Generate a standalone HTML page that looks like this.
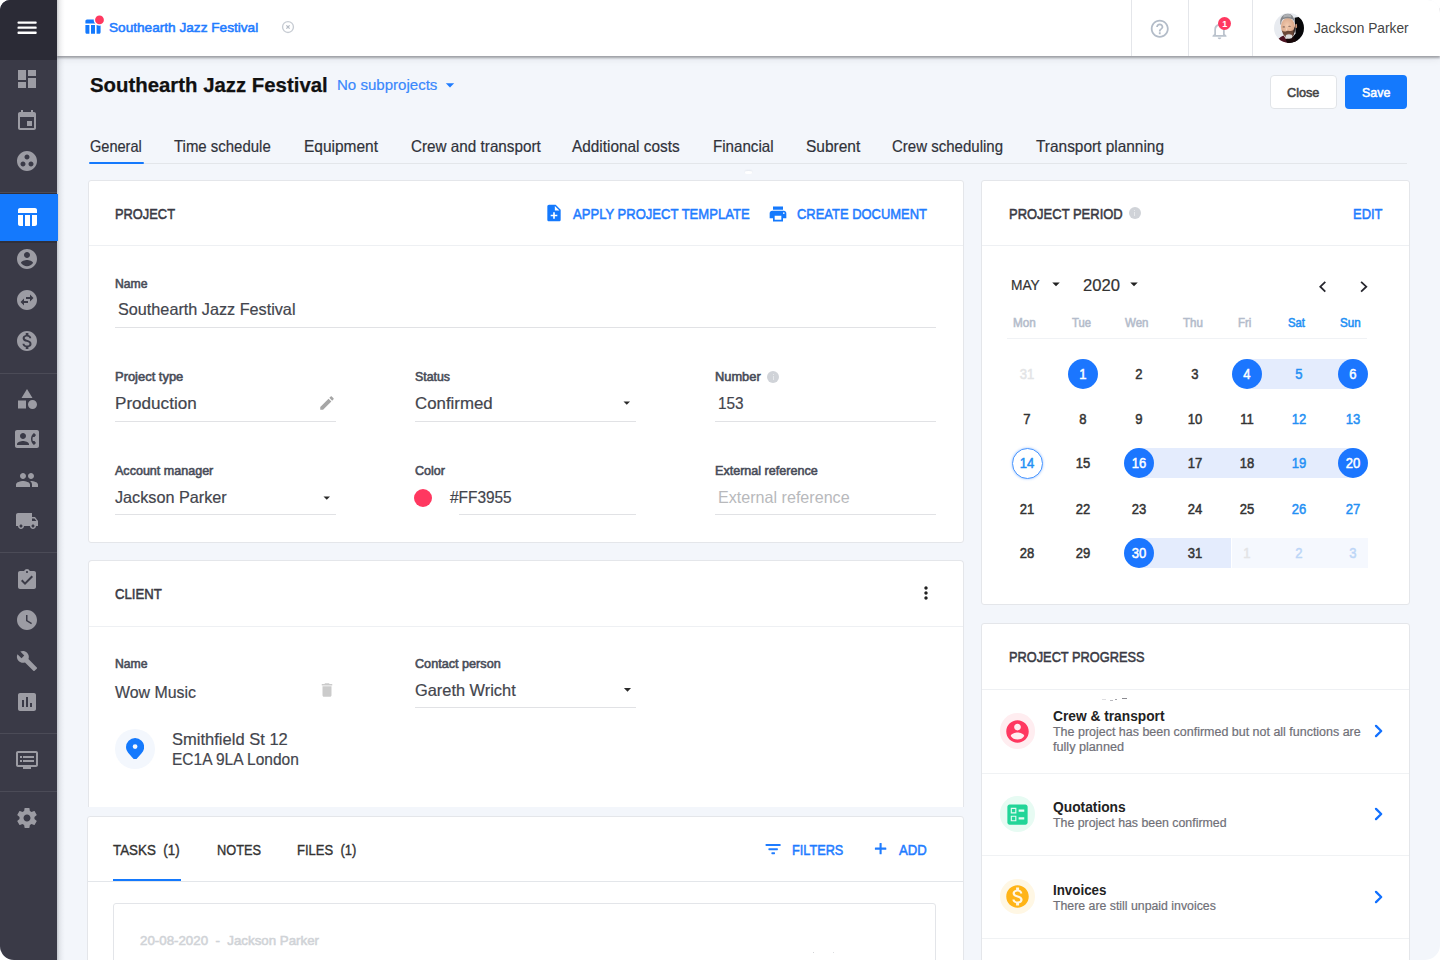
<!DOCTYPE html>
<html lang="en"><head><meta charset="utf-8"><title>Southearth Jazz Festival</title>
<style>
*{box-sizing:border-box;margin:0;padding:0}
html,body{width:1440px;height:960px;background:#fff;overflow:hidden}
body{font-family:"Liberation Sans",sans-serif;color:#333}
#app{position:absolute;left:0;top:0;width:1440px;height:960px;background:#f3f6fb;border-radius:10px 12.5px 15px 14px;overflow:hidden}
#app div,#app span,#app svg{position:absolute}
.t{white-space:nowrap;line-height:1;transform-origin:0 50%;display:block}
.c{white-space:nowrap;line-height:31px;height:30px;width:30px;text-align:center;font-size:14.5px;font-weight:400;-webkit-text-stroke:.5px;color:#333;display:block;transform:scaleX(.9)}
.card{background:#fff;border:1px solid #e4e6ea;border-radius:3px}
.hl{height:1px;background:#eef0f3}
.ul{height:1px;background:#e1e2e5}
.side{left:0;top:0;width:57px;height:960px;background:#3a3a47}
.sidetop{left:0;top:0;width:57px;height:60px;background:#2b2b36}
.sdiv{left:0;width:57px;height:1px;background:#4b4b57}
.sideshadow{left:57px;top:0;width:8px;height:960px;background:linear-gradient(90deg,rgba(40,45,60,.24),rgba(40,45,60,.09) 30%,rgba(40,45,60,.03) 65%,rgba(40,45,60,0))}
.topbar{left:57px;top:0;width:1383px;height:56px;background:#fff;box-shadow:0 1.5px 2px rgba(30,30,35,.36),0 3px 8px rgba(30,30,40,.08)}
.vdiv{top:0;width:1px;height:56px;background:#e4e6ea}
.btn{border-radius:4px}
.dot{border-radius:50%}

</style></head>
<body>
<div id="app">
<!-- page header -->
<div class="btn" style="left:1269.8px;top:75px;width:66.8px;height:34px;background:#fff;border:1px solid #e1e4e8"></div>
<div class="btn" style="left:1345px;top:75px;width:61.5px;height:34px;background:#1479fd"></div>
<svg style="position:absolute;left:440.3px;top:74.6px;" width="20.0" height="20.0" viewBox="0 0 24 24"><path d="M7 10l5 5 5-5z" fill="#1f7cff"/></svg>
<div style="left:90px;top:163px;width:1317px;height:1px;background:#e3e6ea"></div>
<div style="left:89px;top:161.6px;width:55px;height:2.4px;background:#1479fd;border-radius:1px"></div>

<div style="left:744.5px;top:171.4px;width:7px;height:2.2px;background:#fff;border-radius:50%;box-shadow:0 -1px 2px rgba(40,50,70,.07)"></div>
<!-- PROJECT card -->
<div class="card" style="left:88px;top:180px;width:876px;height:363px"></div>
<div class="hl" style="left:89px;top:245px;width:874px"></div>
<svg style="position:absolute;left:544.3px;top:203.3px;" width="20.0" height="20.0" viewBox="0 0 24 24"><path d="M14 2H6c-1.1 0-1.990.9-1.990 2L4 20c0 1.100.890 2 1.990 2H18c1.100 0 2-.9 2-2V8l-6-6zm2 14h-3v3h-2v-3H8v-2h3v-3h2v3h3v2zm-3-7V3.500L18.500 9H13z" fill="#1479fd"/></svg>
<svg style="position:absolute;left:767.8px;top:204.2px;" width="20.0" height="20.0" viewBox="0 0 24 24"><path d="M19 8H5c-1.660 0-3 1.340-3 3v6h4v4h12v-4h4v-6c0-1.660-1.340-3-3-3zm-3 11H8v-5h8v5zm3-7c-.55 0-1-.45-1-1s.45-1 1-1 1 .45 1 1-.45 1-1 1zm-1-9H6v4h12V3z" fill="#1479fd"/></svg>
<div class="ul" style="left:114.7px;top:326.5px;width:821.6px"></div>
<div class="ul" style="left:114.7px;top:421px;width:221px"></div>
<div class="ul" style="left:414.7px;top:421px;width:221px"></div>
<div class="ul" style="left:714.7px;top:421px;width:221px"></div>
<div class="ul" style="left:114.7px;top:514px;width:221px"></div>
<div class="ul" style="left:459px;top:514px;width:176.7px"></div>
<div class="ul" style="left:714.7px;top:514px;width:221px"></div>
<svg style="position:absolute;left:317.8px;top:394.0px;" width="18.0" height="18.0" viewBox="0 0 24 24"><path d="M3 17.250V21h3.750L17.810 9.940l-3.750-3.750L3 17.250zM20.710 7.040c.39-.39.39-1.020 0-1.410l-2.340-2.340c-.39-.39-1.020-.39-1.410 0l-1.830 1.830 3.750 3.750 1.830-1.830z" fill="#a6a6a6"/></svg>
<svg style="position:absolute;left:619.25px;top:395.15px;" width="15.5" height="15.5" viewBox="0 0 24 24"><path d="M7 10l5 5 5-5z" fill="#2a2a2a"/></svg>
<svg style="position:absolute;left:319.25px;top:490.15px;" width="15.5" height="15.5" viewBox="0 0 24 24"><path d="M7 10l5 5 5-5z" fill="#2a2a2a"/></svg>
<div class="dot" style="left:767.3px;top:370.7px;width:12px;height:12px;background:#d0d3d8"></div><div style="left:772.8px;top:373.6px;width:1px;height:1.2px;background:#e6e8eb"></div><div style="left:772.8px;top:375.6px;width:1px;height:4px;background:#e6e8eb"></div>
<div class="dot" style="left:414.1px;top:488.7px;width:18.4px;height:18.4px;background:#ff3860"></div>

<!-- CLIENT card -->
<div class="card" style="left:88px;top:560px;width:876px;height:247px;border-bottom:none;border-radius:4px 4px 0 0"></div>
<div class="hl" style="left:89px;top:626px;width:874px"></div>
<svg style="position:absolute;left:915.7px;top:583.3px;" width="20.0" height="20.0" viewBox="0 0 24 24"><path d="M12 8c1.100 0 2-.9 2-2s-.9-2-2-2-2 .9-2 2 .9 2 2 2zm0 2c-1.100 0-2 .9-2 2s.9 2 2 2 2-.9 2-2-.9-2-2-2zm0 6c-1.100 0-2 .9-2 2s.9 2 2 2 2-.9 2-2-.9-2-2-2z" fill="#222"/></svg>
<svg style="position:absolute;left:318.2px;top:681.0px;" width="18.0" height="18.0" viewBox="0 0 24 24"><path d="M6 19c0 1.100.9 2 2 2h8c1.100 0 2-.9 2-2V7H6v12zM19 4h-3.500l-1-1h-5l-1 1H5v2h14V4z" fill="#cbcbcb"/></svg>
<div class="ul" style="left:414.7px;top:706.5px;width:221px"></div>
<svg style="position:absolute;left:618.5px;top:680.8px;" width="17.0" height="17.0" viewBox="0 0 24 24"><path d="M7 10l5 5 5-5z" fill="#2a2a2a"/></svg>
<div class="dot" style="left:114.7px;top:728.8px;width:40.2px;height:40.2px;background:#f3f7fd"></div>
<svg style="left:125.9px;top:737.8px" width="18.2" height="21.6" viewBox="0 0 18.2 21.6"><path fill-rule="evenodd" fill="#1479fd" d="M9.1 21.6c-.55 0-1.050-.35-1.400-.7C3.2 16.3 0 13.2 0 9.100A9.1 9.1 0 0 1 18.2 9.100c0 4.100-3.2 7.200-7.7 11.800-.35.350-.85.700-1.400.700zM9.1 6.200a2.4 2.4 0 1 0 0 4.8 2.4 2.4 0 0 0 0-4.800z"/></svg>

<!-- TASKS card -->
<div class="card" style="left:87px;top:816px;width:877px;height:160px"></div>
<div style="left:88px;top:881px;width:875px;height:1px;background:#e3e6ea"></div>
<div style="left:113px;top:878.5px;width:68px;height:2.5px;background:#1479fd"></div>
<svg style="left:764px;top:842px" width="18" height="14" viewBox="0 0 18 14"><g fill="#1f7cff"><rect x="1.6" y="2" width="15" height="2" rx=".6"/><rect x="4.4" y="6.2" width="9.5" height="2" rx=".6"/><rect x="7.4" y="10.2" width="3.6" height="2" rx=".6"/></g></svg>
<svg style="left:874px;top:842.4px" width="14" height="14" viewBox="0 0 14 14"><g fill="#1f7cff"><rect x=".9" y="5.6" width="11.4" height="2.1" rx=".5"/><rect x="5.550" y=".95" width="2.1" height="11.4" rx=".5"/></g></svg>
<div class="card" style="left:113px;top:903px;width:823px;height:80px;border-color:#e3e5e9"></div>

<div style="left:813px;top:952px;width:1px;height:1px;background:#d2d3d6"></div>
<div style="left:833px;top:952px;width:1px;height:1px;background:#dcdde0"></div>
<!-- PERIOD card -->
<div class="card" style="left:981px;top:180px;width:428.5px;height:424.5px"></div>
<div class="hl" style="left:982px;top:245px;width:427px"></div>
<div class="dot" style="left:1128.8px;top:207.2px;width:12px;height:12px;background:#d0d3d8"></div><div style="left:1134.3px;top:210.1px;width:1px;height:1.2px;background:#e6e8eb"></div><div style="left:1134.3px;top:212.1px;width:1px;height:4px;background:#e6e8eb"></div>
<svg style="position:absolute;left:1047.2px;top:275.0px;" width="18.0" height="18.0" viewBox="0 0 24 24"><path d="M7 10l5 5 5-5z" fill="#222"/></svg>
<svg style="position:absolute;left:1125.2px;top:275.0px;" width="18.0" height="18.0" viewBox="0 0 24 24"><path d="M7 10l5 5 5-5z" fill="#222"/></svg>
<svg style="left:1315px;top:278px" width="16" height="18" viewBox="0 0 16 18"><path d="M10.3 3.8L5.3 8.7 10.3 13.6" fill="none" stroke="#26262e" stroke-width="1.8"/></svg>
<svg style="left:1356px;top:278px" width="16" height="18" viewBox="0 0 16 18"><path d="M5.1 3.8L10.3 8.7 5.1 13.6" fill="none" stroke="#26262e" stroke-width="1.8"/></svg>
<div style="left:1007px;top:338px;width:360px;height:1px;background:#f0f2f5"></div>
<div style="left:1247.4px;top:359.3px;width:105.7px;height:30px;background:#e4ecfd"></div>
<div style="left:1139.2px;top:448.2px;width:213.9px;height:30px;background:#e4ecfd"></div>
<div style="left:1139.2px;top:537.7px;width:92.3px;height:30px;background:#e4ecfd"></div>
<div style="left:1231.5px;top:537.7px;width:136.5px;height:30px;background:#f5f8fe"></div>
<span class="c" style="left:1012.0px;top:359.3px;color:#e3e4e6">31</span>
<div class="dot" style="left:1067.8px;top:359.3px;width:30px;height:30px;background:#1b76ff"></div>
<span class="c" style="left:1067.8px;top:359.3px;color:#fff">1</span>
<span class="c" style="left:1124.2px;top:359.3px;color:#333">2</span>
<span class="c" style="left:1179.7px;top:359.3px;color:#333">3</span>
<div class="dot" style="left:1232.4px;top:359.3px;width:30px;height:30px;background:#1b76ff"></div>
<span class="c" style="left:1232.4px;top:359.3px;color:#fff">4</span>
<span class="c" style="left:1284.0px;top:359.3px;color:#2490f4">5</span>
<div class="dot" style="left:1338.1px;top:359.3px;width:30px;height:30px;background:#1b76ff"></div>
<span class="c" style="left:1338.1px;top:359.3px;color:#fff">6</span>
<span class="c" style="left:1012.0px;top:404.0px;color:#333">7</span>
<span class="c" style="left:1067.8px;top:404.0px;color:#333">8</span>
<span class="c" style="left:1124.2px;top:404.0px;color:#333">9</span>
<span class="c" style="left:1179.7px;top:404.0px;color:#333">10</span>
<span class="c" style="left:1232.4px;top:404.0px;color:#333">11</span>
<span class="c" style="left:1284.0px;top:404.0px;color:#2490f4">12</span>
<span class="c" style="left:1338.1px;top:404.0px;color:#2490f4">13</span>
<div class="dot" style="left:1011.5px;top:447.7px;width:31px;height:31px;background:#fff;border:1.3px solid #4b97ff;box-shadow:0 0 2.5px rgba(27,118,255,.45)"></div>
<span class="c" style="left:1012.0px;top:448.2px;color:#2490f4">14</span>
<span class="c" style="left:1067.8px;top:448.2px;color:#333">15</span>
<div class="dot" style="left:1124.2px;top:448.2px;width:30px;height:30px;background:#1b76ff"></div>
<span class="c" style="left:1124.2px;top:448.2px;color:#fff">16</span>
<span class="c" style="left:1179.7px;top:448.2px;color:#333">17</span>
<span class="c" style="left:1232.4px;top:448.2px;color:#333">18</span>
<span class="c" style="left:1284.0px;top:448.2px;color:#2490f4">19</span>
<div class="dot" style="left:1338.1px;top:448.2px;width:30px;height:30px;background:#1b76ff"></div>
<span class="c" style="left:1338.1px;top:448.2px;color:#fff">20</span>
<span class="c" style="left:1012.0px;top:493.6px;color:#333">21</span>
<span class="c" style="left:1067.8px;top:493.6px;color:#333">22</span>
<span class="c" style="left:1124.2px;top:493.6px;color:#333">23</span>
<span class="c" style="left:1179.7px;top:493.6px;color:#333">24</span>
<span class="c" style="left:1232.4px;top:493.6px;color:#333">25</span>
<span class="c" style="left:1284.0px;top:493.6px;color:#2490f4">26</span>
<span class="c" style="left:1338.1px;top:493.6px;color:#2490f4">27</span>
<span class="c" style="left:1012.0px;top:537.7px;color:#333">28</span>
<span class="c" style="left:1067.8px;top:537.7px;color:#333">29</span>
<div class="dot" style="left:1124.2px;top:537.7px;width:30px;height:30px;background:#1b76ff"></div>
<span class="c" style="left:1124.2px;top:537.7px;color:#fff">30</span>
<span class="c" style="left:1179.7px;top:537.7px;color:#333">31</span>
<span class="c" style="left:1232.4px;top:537.7px;color:#e3e4e6">1</span>
<span class="c" style="left:1284.0px;top:537.7px;color:#bcd6f7">2</span>
<span class="c" style="left:1338.1px;top:537.7px;color:#bcd6f7">3</span>

<!-- PROGRESS card -->
<div class="card" style="left:981px;top:623px;width:428.5px;height:360px"></div>
<div class="hl" style="left:982px;top:689px;width:427px"></div>
<div class="hl" style="left:982px;top:772.5px;width:427px;background:#f0f2f4"></div>
<div class="hl" style="left:982px;top:854.5px;width:427px;background:#f0f2f4"></div>
<div class="hl" style="left:982px;top:938px;width:427px;background:#f0f2f4"></div>
<div class="dot" style="left:999.5px;top:713.3px;width:35.4px;height:35.4px;background:#ffedf0"></div>
<svg style="position:absolute;left:1003.7px;top:717.5px;" width="27.0" height="27.0" viewBox="0 0 24 24"><path d="M12 2C6.48 2 2 6.48 2 12s4.48 10 10 10 10-4.48 10-10S17.52 2 12 2zm0 3c1.66 0 3 1.34 3 3s-1.34 3-3 3-3-1.34-3-3 1.34-3 3-3zm0 14.2c-2.5 0-4.71-1.28-6-3.22.03-1.99 4-3.08 6-3.08 1.99 0 5.97 1.09 6 3.08-1.29 1.94-3.5 3.22-6 3.22z" fill="#ff3860"/></svg>
<div class="dot" style="left:999.5px;top:796.3px;width:35.4px;height:35.4px;background:#e7fbf3"></div>
<svg style="position:absolute;left:1003.9px;top:800.7px;" width="27.0" height="27.0" viewBox="0 0 24 24"><path d="M13 9.500h5v-2h-5v2zm0 7h5v-2h-5v2zm6 4.500H5c-1.100 0-2-.9-2-2V5c0-1.100.9-2 2-2h14c1.100 0 2 .9 2 2v14c0 1.100-.9 2-2 2zM6 11h5V6H6v5zm1-4h3v3H7V7zM6 18h5v-5H6v5zm1-4h3v3H7v-3z" fill="#22d598"/></svg>
<div class="dot" style="left:999.5px;top:878.9px;width:35.4px;height:35.4px;background:#fff7e4"></div>
<svg style="position:absolute;left:1003.7px;top:883.1px;" width="27.0" height="27.0" viewBox="0 0 24 24"><path d="M12 2C6.48 2 2 6.48 2 12s4.48 10 10 10 10-4.48 10-10S17.52 2 12 2zm1.41 16.09V20h-2.67v-1.93c-1.71-.36-3.16-1.46-3.27-3.4h1.96c.1 1.05.82 1.87 2.65 1.87 1.96 0 2.4-.98 2.4-1.59 0-.83-.44-1.61-2.67-2.14-2.48-.6-4.18-1.62-4.18-3.67 0-1.72 1.39-2.84 3.11-3.21V4h2.67v1.95c1.86.45 2.79 1.86 2.85 3.39H14.3c-.05-1.11-.64-1.87-2.22-1.87-1.5 0-2.4.68-2.4 1.64 0 .84.65 1.39 2.67 1.91s4.18 1.39 4.18 3.91c-.01 1.83-1.38 2.83-3.12 3.16z" fill="#ffb417"/></svg>
<svg style="left:1373.3px;top:723px" width="12" height="16" viewBox="0 0 12 16"><path d="M3 2.9L8.2 8 3 13.1" fill="none" stroke="#1271ff" stroke-width="2.3" stroke-linecap="round" stroke-linejoin="round"/></svg>
<svg style="left:1373.3px;top:806px" width="12" height="16" viewBox="0 0 12 16"><path d="M3 2.9L8.2 8 3 13.1" fill="none" stroke="#1271ff" stroke-width="2.3" stroke-linecap="round" stroke-linejoin="round"/></svg>
<svg style="left:1373.3px;top:888.5px" width="12" height="16" viewBox="0 0 12 16"><path d="M3 2.9L8.2 8 3 13.1" fill="none" stroke="#1271ff" stroke-width="2.3" stroke-linecap="round" stroke-linejoin="round"/></svg>

<div style="left:1102px;top:699px;width:4px;height:1px;background:#dedee1"></div>
<div style="left:1110px;top:699.5px;width:3px;height:1px;background:#b9b9be"></div>
<div style="left:1115px;top:698.5px;width:2px;height:1px;background:#a5a5ab"></div>
<div style="left:1122px;top:698px;width:5px;height:1px;background:#8b8b91"></div>
<!-- top bar -->
<div class="topbar"></div>
<div class="vdiv" style="left:1131px"></div>
<div class="vdiv" style="left:1188px"></div>
<div class="vdiv" style="left:1252px"></div>
<svg style="position:absolute;left:82.9px;top:16.5px;" width="19.2" height="19.2" viewBox="0 0 24 24"><path d="M10 10.02h5V21h-5zM17 21h3c1.1 0 2-.9 2-2v-9h-5v11zm3-18H5c-1.1 0-2 .9-2 2v3h19V5c0-1.1-.9-2-2-2zM3 19c0 1.1.9 2 2 2h3V10H3v9z" fill="#1479fd"/></svg>
<svg style="left:92px;top:12px" width="16" height="16" viewBox="0 0 16 16"><circle cx="7.5" cy="7.9" r="5.8" fill="#fff"/><circle cx="7.5" cy="7.9" r="4.4" fill="#ff3860"/></svg>
<svg style="left:281px;top:20px" width="14" height="14" viewBox="0 0 14 14"><circle cx="7" cy="7" r="5.45" fill="none" stroke="#c7ccd3" stroke-width="1.35"/><path d="M5.4 5.4L8.6 8.6M8.6 5.4L5.4 8.6" stroke="#b4bac3" stroke-width="1.25"/></svg>
<svg style="position:absolute;left:1149.05px;top:17.65px;" width="21.5" height="21.5" viewBox="0 0 24 24"><path d="M11 18h2v-2h-2v2zm1-16C6.480 2 2 6.480 2 12s4.480 10 10 10 10-4.480 10-10S17.520 2 12 2zm0 18c-4.410 0-8-3.590-8-8s3.590-8 8-8 8 3.590 8 8-3.590 8-8 8zm0-14c-2.210 0-4 1.790-4 4h2c0-1.100.9-2 2-2s2 .9 2 2c0 2-3 1.750-3 5h2c0-2.250 3-2.500 3-5 0-2.210-1.790-4-4-4z" fill="#b3bcc8"/></svg>
<svg style="position:absolute;left:1208.5px;top:20.1px;" width="21.0" height="21.0" viewBox="0 0 24 24"><path d="M12 22c1.100 0 2-.9 2-2h-4c0 1.100.9 2 2 2zm6-6v-5c0-3.070-1.630-5.640-4.500-6.320V4c0-.83-.67-1.500-1.500-1.500s-1.500.67-1.500 1.500v.68C7.640 5.360 6 7.920 6 11v5l-2 2v1h16v-1l-2-2zm-2 1H8v-6c0-2.480 1.510-4.500 4-4.500s4 2.020 4 4.500v6z" fill="#bbc3cd"/></svg>
<div class="dot" style="left:1217.6px;top:17.1px;width:13.4px;height:13.4px;background:#ff3860"></div>
<span class="t" style="left:1222.3px;top:19.6px;font-size:9px;font-weight:700;color:#fff">1</span>
<svg style="left:1274px;top:13.4px" width="30" height="30" viewBox="0 0 30 30"><defs><clipPath id="av"><circle cx="15" cy="15" r="15"/></clipPath><radialGradient id="sk" cx="45%" cy="45%" r="60%"><stop offset="0" stop-color="#f2cbb0"/><stop offset="1" stop-color="#d6a283"/></radialGradient></defs><g clip-path="url(#av)"><rect width="30" height="30" fill="#e8ebf0"/><path d="M20.600 4.800L24.600 4.100 30 8 30 30 13 30 17 26 21.600 20.400Z" fill="#070709"/><path d="M2 30Q4 24.600 9.600 22.500L12 26.300 15 30Z" fill="#4d1221"/><path d="M11.600 26L19.200 23.800 24.500 30 13 30Z" fill="#180809"/><ellipse cx="22.200" cy="13" rx=".9" ry="2.300" fill="#cf987b"/><ellipse cx="13.900" cy="13.400" rx="7" ry="8.500" fill="url(#sk)"/><path d="M6.300 11.500Q5.400 5 9.500 2 13 0 16.500 1.200 20.300 3 21.200 11.500L20.300 8.500Q19.500 6.500 17.800 6 13.500 4.500 9 6.300 7.300 7.300 7.100 11.500Z" fill="#85878b"/><path d="M9.500 2.300Q13 .4 16.500 1.500 18 3 17 4.300 13 3.200 9.200 4.800Z" fill="#aeb0b3"/><path d="M7.700 17.300Q8.600 21.800 11.700 24.500 15 26.600 18.700 23.800 21 20.500 21.100 13.300L19.600 17Q17 18.600 15.200 17.900 13.300 17.500 11.600 18.400 9.500 18.900 7.700 17.300Z" fill="#6a4838"/><path d="M19.600 17L21.100 13.300Q21.300 19 19.400 22.800Z" fill="#2b2220"/><ellipse cx="15" cy="23.500" rx="3.400" ry="2.200" fill="#dcdcdc"/><path d="M12.800 20.200Q15 21.200 17.200 19.800 15 20.400 12.800 20.200Z" fill="#a2604f"/><ellipse cx="9.800" cy="13.900" rx="1.300" ry=".55" fill="#5b4640" opacity=".75"/><ellipse cx="15.500" cy="13.300" rx="1.300" ry=".55" fill="#5b4640" opacity=".75"/><path d="M12.300 14.500L11.800 17.200 13.300 17.300Z" fill="#fbe0cc" opacity=".7"/></g></svg>


<!-- sidebar -->
<div class="sideshadow"></div>
<div class="side"></div>
<div class="sidetop"></div>
<svg style="left:17px;top:20px" width="21" height="15" viewBox="0 0 21 15"><g fill="#fff"><rect x=".5" y="1.4" width="19.2" height="2.3" rx=".9"/><rect x=".5" y="6.5" width="19.2" height="2.3" rx=".9"/><rect x=".5" y="11.6" width="19.2" height="2.3" rx=".9"/></g></svg>
<svg style="position:absolute;left:15.0px;top:66.7px;" width="24.0" height="24.0" viewBox="0 0 24 24"><path d="M3 13h8V3H3v10zm0 8h8v-6H3v6zm10 0h8V11h-8v10zm0-18v6h8V3h-8z" fill="#9c9ca4"/></svg>
<svg style="position:absolute;left:15.0px;top:108.5px;" width="24.0" height="24.0" viewBox="0 0 24 24"><path d="M17 12h-5v5h5v-5zM16 1v2H8V1H6v2H5c-1.11 0-1.99.9-1.99 2L3 19c0 1.1.89 2 2 2h14c1.1 0 2-.9 2-2V5c0-1.1-.9-2-2-2h-1V1h-2zm3 18H5V8h14v11z" fill="#9c9ca4"/></svg>
<svg style="position:absolute;left:15.0px;top:148.5px;" width="24.0" height="24.0" viewBox="0 0 24 24"><path d="M12 2C6.48 2 2 6.48 2 12s4.48 10 10 10 10-4.48 10-10S17.52 2 12 2zM8 17.5c-1.38 0-2.5-1.12-2.5-2.5s1.12-2.5 2.5-2.5 2.5 1.12 2.5 2.5-1.12 2.5-2.5 2.5zM9.5 8c0-1.38 1.12-2.5 2.5-2.5s2.5 1.12 2.5 2.5-1.12 2.5-2.5 2.5S9.5 9.38 9.5 8zm6.5 9.5c-1.38 0-2.5-1.12-2.5-2.5s1.12-2.5 2.5-2.5 2.5 1.12 2.5 2.5-1.12 2.5-2.5 2.5z" fill="#9c9ca4"/></svg>
<div class="sdiv" style="top:191.5px"></div>
<div style="left:0;top:192.5px;width:57px;height:50.5px;background:#30303b"></div>
<div style="left:0;top:194px;width:58px;height:47px;background:#1479fd"></div>
<svg style="position:absolute;left:14.9px;top:204.9px;" width="24.0" height="24.0" viewBox="0 0 24 24"><path d="M10 10.02h5V21h-5zM17 21h3c1.1 0 2-.9 2-2v-9h-5v11zm3-18H5c-1.1 0-2 .9-2 2v3h19V5c0-1.1-.9-2-2-2zM3 19c0 1.1.9 2 2 2h3V10H3v9z" fill="#fff"/></svg>
<svg style="position:absolute;left:15.0px;top:247.2px;" width="24.0" height="24.0" viewBox="0 0 24 24"><path d="M12 2C6.48 2 2 6.48 2 12s4.48 10 10 10 10-4.48 10-10S17.52 2 12 2zm0 3c1.66 0 3 1.34 3 3s-1.34 3-3 3-3-1.34-3-3 1.34-3 3-3zm0 14.2c-2.5 0-4.71-1.28-6-3.22.03-1.99 4-3.08 6-3.08 1.99 0 5.97 1.09 6 3.08-1.29 1.94-3.5 3.22-6 3.22z" fill="#9c9ca4"/></svg>
<svg style="position:absolute;left:15.0px;top:288.2px;" width="24.0" height="24.0" viewBox="0 0 24 24"><path d="M22 12c0-5.52-4.48-10-10-10S2 6.480 2 12s4.48 10 10 10 10-4.48 10-10zm-7-5.5l3.5 3.5-3.5 3.5V11h-4V9h4V6.5zm-6 11L5.5 14 9 10.5V13h4v2H9v2.5z" fill="#9c9ca4"/></svg>
<svg style="position:absolute;left:15.0px;top:329.0px;" width="24.0" height="24.0" viewBox="0 0 24 24"><path d="M12 2C6.48 2 2 6.48 2 12s4.48 10 10 10 10-4.48 10-10S17.52 2 12 2zm1.41 16.09V20h-2.67v-1.93c-1.71-.36-3.16-1.46-3.27-3.4h1.96c.1 1.05.82 1.87 2.65 1.87 1.96 0 2.4-.98 2.4-1.59 0-.83-.44-1.61-2.67-2.14-2.48-.6-4.18-1.62-4.18-3.67 0-1.72 1.39-2.84 3.11-3.21V4h2.67v1.95c1.86.45 2.79 1.86 2.85 3.39H14.3c-.05-1.11-.64-1.87-2.22-1.87-1.5 0-2.4.68-2.4 1.64 0 .84.65 1.39 2.67 1.91s4.18 1.39 4.18 3.91c-.01 1.83-1.38 2.83-3.12 3.16z" fill="#9c9ca4"/></svg>
<div class="sdiv" style="top:372.5px"></div>
<svg style="position:absolute;left:15.0px;top:387.3px;" width="24.0" height="24.0" viewBox="0 0 24 24"><path d="M12 2l-5.5 9h11L12 2zM17.5 13a4.5 4.5 0 1 0 0 9 4.5 4.5 0 0 0 0-9zM3 13.5h8v8H3z" fill="#9c9ca4"/></svg>
<svg style="position:absolute;left:15.0px;top:427.0px;" width="24.0" height="24.0" viewBox="0 0 24 24"><path d="M22 3H2C.9 3 0 3.9 0 5v14c0 1.1.9 2 2 2h20c1.1 0 1.99-.9 1.99-2L24 5c0-1.1-.9-2-2-2zM8 6c1.66 0 3 1.34 3 3s-1.34 3-3 3-3-1.34-3-3 1.34-3 3-3zm6 12H2v-1c0-2 4-3.1 6-3.1s6 1.1 6 3.1v1zm3.85-4h1.64L21 16l-1.99 1.99c-1.31-.98-2.28-2.38-2.73-3.99-.18-.64-.28-1.31-.28-2s.1-1.36.28-2c.45-1.62 1.42-3.01 2.73-3.99L21 8l-1.51 2h-1.64c-.22.63-.35 1.3-.35 2s.13 1.37.35 2z" fill="#9c9ca4"/></svg>
<svg style="position:absolute;left:15.0px;top:468.0px;" width="24.0" height="24.0" viewBox="0 0 24 24"><path d="M16 11c1.66 0 2.99-1.34 2.99-3S17.66 5 16 5c-1.66 0-3 1.34-3 3s1.34 3 3 3zm-8 0c1.66 0 2.99-1.34 2.99-3S9.66 5 8 5C6.34 5 5 6.34 5 8s1.34 3 3 3zm0 2c-2.33 0-7 1.17-7 3.5V19h14v-2.5c0-2.33-4.67-3.5-7-3.5zm8 0c-.29 0-.62.02-.97.05 1.16.84 1.97 1.97 1.97 3.45V19h6v-2.5c0-2.33-4.67-3.5-7-3.5z" fill="#9c9ca4"/></svg>
<svg style="position:absolute;left:15.0px;top:508.5px;" width="24.0" height="24.0" viewBox="0 0 24 24"><path d="M20 8h-3V4H3c-1.1 0-2 .9-2 2v11h2c0 1.66 1.34 3 3 3s3-1.34 3-3h6c0 1.66 1.34 3 3 3s3-1.34 3-3h2v-5l-3-4zM6 18.5c-.83 0-1.5-.67-1.5-1.5s.67-1.5 1.5-1.500 1.500.67 1.500 1.500-.67 1.500-1.500 1.500zm13.500-9l1.960 2.500H17V9.500h2.500zm-1.500 9c-.83 0-1.500-.67-1.500-1.500s.67-1.500 1.500-1.500 1.500.67 1.500 1.500-.67 1.500-1.500 1.500z" fill="#9c9ca4"/></svg>
<div class="sdiv" style="top:551.5px"></div>
<svg style="position:absolute;left:15.0px;top:567.7px;" width="24.0" height="24.0" viewBox="0 0 24 24"><path d="M19 3h-4.18C14.4 1.84 13.3 1 12 1c-1.3 0-2.4.84-2.82 2H5c-1.1 0-2 .9-2 2v14c0 1.1.9 2 2 2h14c1.1 0 2-.9 2-2V5c0-1.1-.9-2-2-2zm-7 0c.55 0 1 .45 1 1s-.45 1-1 1-1-.45-1-1 .45-1 1-1zm-2 14l-4-4 1.410-1.410L10 14.170l6.590-6.590L18 9l-8 8z" fill="#9c9ca4"/></svg>
<svg style="position:absolute;left:15.0px;top:607.8px;" width="24.0" height="24.0" viewBox="0 0 24 24"><path d="M12 2C6.5 2 2 6.5 2 12s4.5 10 10 10 10-4.5 10-10S17.5 2 12 2zm4.2 14.2L11 13V7h1.5v5.2l4.5 2.7-.8 1.300z" fill="#9c9ca4"/></svg>
<svg style="position:absolute;left:16.0px;top:649.6px;" width="22.0" height="22.0" viewBox="0 0 24 24"><path d="M22.7 19l-9.1-9.1c.9-2.3.4-5-1.5-6.900-2-2-5-2.400-7.400-1.300L9 6 6 9 1.600 4.700C.4 7.100.9 10.100 2.900 12.100c1.900 1.900 4.600 2.400 6.900 1.500l9.100 9.100c.4.400 1 .400 1.400 0l2.300-2.300c.5-.4.5-1.100.1-1.400z" fill="#9c9ca4"/></svg>
<svg style="position:absolute;left:15.0px;top:689.5px;" width="24.0" height="24.0" viewBox="0 0 24 24"><path d="M19 3H5c-1.1 0-2 .9-2 2v14c0 1.1.9 2 2 2h14c1.1 0 2-.9 2-2V5c0-1.1-.9-2-2-2zM9 17H7v-7h2v7zm4 0h-2V7h2v10zm4 0h-2v-4h2v4z" fill="#9c9ca4"/></svg>
<div class="sdiv" style="top:732.5px"></div>
<svg style="position:absolute;left:15.0px;top:748.0px;" width="24.0" height="24.0" viewBox="0 0 24 24"><path d="M21 3H3c-1.1 0-2 .9-2 2v12c0 1.1.9 2 2 2h5v2h8v-2h5c1.1 0 1.990-.9 1.990-2L23 5c0-1.100-.9-2-2-2zm0 14H3V5h18v12zm-2-9H8v2h11V8zm0 4H8v2h11v-2zM7 8H5v2h2V8zm0 4H5v2h2v-2z" fill="#9c9ca4"/></svg>
<div class="sdiv" style="top:791px"></div>
<svg style="position:absolute;left:15.0px;top:805.5px;" width="24.0" height="24.0" viewBox="0 0 24 24"><path d="M19.43 12.98c.04-.32.07-.64.07-.98s-.03-.66-.07-.98l2.110-1.650c.19-.15.24-.42.12-.64l-2-3.460c-.12-.22-.39-.3-.61-.22l-2.490 1c-.52-.4-1.080-.73-1.690-.98l-.38-2.650C14.460 2.180 14.250 2 14 2h-4c-.25 0-.46.18-.49.42l-.38 2.650c-.61.25-1.170.59-1.690.98l-2.490-1c-.23-.09-.49 0-.61.22l-2 3.460c-.13.22-.07.49.12.64l2.110 1.650c-.04.32-.07.65-.07.98s.03.66.07.98l-2.110 1.650c-.19.15-.24.42-.12.64l2 3.460c.12.22.39.3.61.22l2.490-1c.52.4 1.080.73 1.690.98l.38 2.650c.03.24.24.42.49.42h4c.25 0 .46-.18.49-.42l.38-2.650c.61-.25 1.170-.59 1.690-.98l2.490 1c.23.09.49 0 .61-.22l2-3.460c.12-.22.07-.49-.12-.64l-2.110-1.650zM12 15.5c-1.930 0-3.500-1.570-3.500-3.500s1.570-3.500 3.500-3.500 3.500 1.570 3.500 3.500-1.570 3.500-3.500 3.500z" fill="#9c9ca4"/></svg>

<!-- text -->
<span id="t0" class="t" style="left:108.8px;top:20.87px;font-size:13.5px;font-weight:400;-webkit-text-stroke:.55px;color:#1f7cff;transform:scaleX(1.0093);">Southearth Jazz Festival</span>
<span id="t1" class="t" style="left:1313.7px;top:21.15px;font-size:14px;font-weight:400;color:#444;transform:scaleX(0.9805);">Jackson Parker</span>
<span id="t2" class="t" style="left:90px;top:74.22px;font-size:21px;font-weight:700;-webkit-text-stroke:.25px;color:#111;transform:scaleX(0.9699);">Southearth Jazz Festival</span>
<span id="t3" class="t" style="left:337.3px;top:76.60px;font-size:15px;font-weight:400;-webkit-text-stroke:.2px;color:#3a88fb;transform:scaleX(1.0034);">No subprojects</span>
<span id="t4" class="t" style="left:89.5px;top:138.03px;font-size:16.5px;font-weight:400;-webkit-text-stroke:.2px;color:#30323a;transform:scaleX(0.8824);">General</span>
<span id="t5" class="t" style="left:174.3px;top:138.03px;font-size:16.5px;font-weight:400;-webkit-text-stroke:.2px;color:#30323a;transform:scaleX(0.9064);">Time schedule</span>
<span id="t6" class="t" style="left:304.3px;top:138.03px;font-size:16.5px;font-weight:400;-webkit-text-stroke:.2px;color:#30323a;transform:scaleX(0.9380);">Equipment</span>
<span id="t7" class="t" style="left:410.7px;top:138.03px;font-size:16.5px;font-weight:400;-webkit-text-stroke:.2px;color:#30323a;transform:scaleX(0.9250);">Crew and transport</span>
<span id="t8" class="t" style="left:572.3px;top:138.03px;font-size:16.5px;font-weight:400;-webkit-text-stroke:.2px;color:#30323a;transform:scaleX(0.9318);">Additional costs</span>
<span id="t9" class="t" style="left:712.7px;top:138.03px;font-size:16.5px;font-weight:400;-webkit-text-stroke:.2px;color:#30323a;transform:scaleX(0.9175);">Financial</span>
<span id="t10" class="t" style="left:805.7px;top:138.03px;font-size:16.5px;font-weight:400;-webkit-text-stroke:.2px;color:#30323a;transform:scaleX(0.9395);">Subrent</span>
<span id="t11" class="t" style="left:892.3px;top:138.03px;font-size:16.5px;font-weight:400;-webkit-text-stroke:.2px;color:#30323a;transform:scaleX(0.9100);">Crew scheduling</span>
<span id="t12" class="t" style="left:1036px;top:138.03px;font-size:16.5px;font-weight:400;-webkit-text-stroke:.2px;color:#30323a;transform:scaleX(0.9344);">Transport planning</span>
<span id="t13" class="t" style="left:1287.3px;top:85.57px;font-size:13.5px;font-weight:400;-webkit-text-stroke:.55px;color:#444;transform:scaleX(0.9387);">Close</span>
<span id="t14" class="t" style="left:1361.7px;top:85.57px;font-size:13.5px;font-weight:400;-webkit-text-stroke:.55px;color:#fff;transform:scaleX(0.9194);">Save</span>
<span id="t15" class="t" style="left:115px;top:205.88px;font-size:15.5px;font-weight:400;-webkit-text-stroke:.55px;color:#3a3a44;transform:scaleX(0.8294);">PROJECT</span>
<span id="t16" class="t" style="left:572.7px;top:205.88px;font-size:15.5px;font-weight:400;-webkit-text-stroke:.55px;color:#1f7cff;transform:scaleX(0.8425);">APPLY PROJECT TEMPLATE</span>
<span id="t17" class="t" style="left:796.7px;top:205.88px;font-size:15.5px;font-weight:400;-webkit-text-stroke:.55px;color:#1f7cff;transform:scaleX(0.8356);">CREATE DOCUMENT</span>
<span id="t18" class="t" style="left:115.3px;top:277.84px;font-size:12px;font-weight:400;-webkit-text-stroke:.55px;color:#484c58;transform:scaleX(1.0151);">Name</span>
<span id="t19" class="t" style="left:117.5px;top:301.33px;font-size:16.5px;font-weight:400;-webkit-text-stroke:.2px;color:#43454d;transform:scaleX(0.9824);">Southearth Jazz Festival</span>
<span id="t20" class="t" style="left:115px;top:370.84px;font-size:12px;font-weight:400;-webkit-text-stroke:.55px;color:#484c58;transform:scaleX(1.0777);">Project type</span>
<span id="t21" class="t" style="left:115px;top:395.33px;font-size:16.5px;font-weight:400;-webkit-text-stroke:.2px;color:#43454d;transform:scaleX(1.0356);">Production</span>
<span id="t22" class="t" style="left:415px;top:370.84px;font-size:12px;font-weight:400;-webkit-text-stroke:.55px;color:#484c58;transform:scaleX(1.0285);">Status</span>
<span id="t23" class="t" style="left:415px;top:395.33px;font-size:16.5px;font-weight:400;-webkit-text-stroke:.2px;color:#43454d;transform:scaleX(1.0207);">Confirmed</span>
<span id="t24" class="t" style="left:715px;top:370.84px;font-size:12px;font-weight:400;-webkit-text-stroke:.55px;color:#484c58;transform:scaleX(1.0706);">Number</span>
<span id="t25" class="t" style="left:717.7px;top:395.33px;font-size:16.5px;font-weight:400;-webkit-text-stroke:.2px;color:#43454d;transform:scaleX(0.9299);">153</span>
<span id="t26" class="t" style="left:115px;top:464.84px;font-size:12px;font-weight:400;-webkit-text-stroke:.55px;color:#484c58;transform:scaleX(1.0450);">Account manager</span>
<span id="t27" class="t" style="left:115px;top:489.33px;font-size:16.5px;font-weight:400;-webkit-text-stroke:.2px;color:#43454d;transform:scaleX(0.9822);">Jackson Parker</span>
<span id="t28" class="t" style="left:415px;top:464.84px;font-size:12px;font-weight:400;-webkit-text-stroke:.55px;color:#484c58;transform:scaleX(1.0458);">Color</span>
<span id="t29" class="t" style="left:450px;top:489.33px;font-size:16.5px;font-weight:400;-webkit-text-stroke:.2px;color:#43454d;transform:scaleX(0.9342);">#FF3955</span>
<span id="t30" class="t" style="left:715px;top:464.84px;font-size:12px;font-weight:400;-webkit-text-stroke:.55px;color:#484c58;transform:scaleX(1.0473);">External reference</span>
<span id="t31" class="t" style="left:717.7px;top:489.33px;font-size:16.5px;font-weight:400;color:#b8b9bc;transform:scaleX(0.9761);">External reference</span>
<span id="t32" class="t" style="left:115px;top:585.88px;font-size:15.5px;font-weight:400;-webkit-text-stroke:.55px;color:#3a3a44;transform:scaleX(0.8472);">CLIENT</span>
<span id="t33" class="t" style="left:115.3px;top:657.84px;font-size:12px;font-weight:400;-webkit-text-stroke:.55px;color:#484c58;transform:scaleX(1.0151);">Name</span>
<span id="t34" class="t" style="left:115px;top:683.61px;font-size:17px;font-weight:400;-webkit-text-stroke:.2px;color:#43454d;transform:scaleX(0.9354);">Wow Music</span>
<span id="t35" class="t" style="left:415px;top:657.84px;font-size:12px;font-weight:400;-webkit-text-stroke:.55px;color:#484c58;transform:scaleX(1.0529);">Contact person</span>
<span id="t36" class="t" style="left:415px;top:682.03px;font-size:16.5px;font-weight:400;-webkit-text-stroke:.2px;color:#43454d;transform:scaleX(0.9923);">Gareth Wricht</span>
<span id="t37" class="t" style="left:172.2px;top:731.03px;font-size:16.5px;font-weight:400;-webkit-text-stroke:.2px;color:#43454d;transform:scaleX(1.0021);">Smithfield St 12</span>
<span id="t38" class="t" style="left:172.2px;top:751.03px;font-size:16.5px;font-weight:400;-webkit-text-stroke:.2px;color:#43454d;transform:scaleX(0.9401);">EC1A 9LA London</span>
<span id="t39" class="t" style="left:113.3px;top:841.88px;font-size:15.5px;font-weight:400;-webkit-text-stroke:.38px;color:#333;transform:scaleX(0.8636);">TASKS&nbsp;&nbsp;(1)</span>
<span id="t40" class="t" style="left:216.7px;top:841.88px;font-size:15.5px;font-weight:400;-webkit-text-stroke:.38px;color:#333;transform:scaleX(0.8239);">NOTES</span>
<span id="t41" class="t" style="left:296.7px;top:841.88px;font-size:15.5px;font-weight:400;-webkit-text-stroke:.38px;color:#333;transform:scaleX(0.8395);">FILES&nbsp;&nbsp;(1)</span>
<span id="t42" class="t" style="left:792px;top:841.88px;font-size:15.5px;font-weight:400;-webkit-text-stroke:.55px;color:#1f7cff;transform:scaleX(0.8196);">FILTERS</span>
<span id="t43" class="t" style="left:899px;top:841.88px;font-size:15.5px;font-weight:400;-webkit-text-stroke:.55px;color:#1f7cff;transform:scaleX(0.8462);">ADD</span>
<span id="t44" class="t" style="left:140px;top:933.57px;font-size:13.5px;font-weight:400;-webkit-text-stroke:.55px;color:#d0d3d7;transform:scaleX(0.9857);">20-08-2020&nbsp;&nbsp;-&nbsp;&nbsp;Jackson Parker</span>
<span id="t45" class="t" style="left:1009px;top:205.88px;font-size:15.5px;font-weight:400;-webkit-text-stroke:.55px;color:#3a3a44;transform:scaleX(0.8373);">PROJECT PERIOD</span>
<span id="t46" class="t" style="left:1352.5px;top:205.88px;font-size:15.5px;font-weight:400;-webkit-text-stroke:.55px;color:#1f7cff;transform:scaleX(0.8354);">EDIT</span>
<span id="t47" class="t" style="left:1010.8px;top:277.40px;font-size:15px;font-weight:400;-webkit-text-stroke:.2px;color:#333;transform:scaleX(0.9170);">MAY</span>
<span id="t48" class="t" style="left:1083px;top:277.03px;font-size:16.5px;font-weight:400;-webkit-text-stroke:.2px;color:#333;transform:scaleX(1.0077);">2020</span>
<span id="t49" class="t" style="left:1013.4px;top:316.84px;font-size:12px;font-weight:400;-webkit-text-stroke:.55px;color:#b4bccb;transform:scaleX(0.9767);">Mon</span>
<span id="t50" class="t" style="left:1071.8px;top:316.84px;font-size:12px;font-weight:400;-webkit-text-stroke:.55px;color:#b4bccb;transform:scaleX(0.9390);">Tue</span>
<span id="t51" class="t" style="left:1125px;top:316.84px;font-size:12px;font-weight:400;-webkit-text-stroke:.55px;color:#b4bccb;transform:scaleX(0.9604);">Wen</span>
<span id="t52" class="t" style="left:1182.8px;top:316.84px;font-size:12px;font-weight:400;-webkit-text-stroke:.55px;color:#b4bccb;transform:scaleX(0.9619);">Thu</span>
<span id="t53" class="t" style="left:1238.3px;top:316.84px;font-size:12px;font-weight:400;-webkit-text-stroke:.55px;color:#b4bccb;transform:scaleX(0.9571);">Fri</span>
<span id="t54" class="t" style="left:1288.2px;top:316.84px;font-size:12px;font-weight:400;-webkit-text-stroke:.55px;color:#2490f4;transform:scaleX(0.9436);">Sat</span>
<span id="t55" class="t" style="left:1340.4px;top:316.84px;font-size:12px;font-weight:400;-webkit-text-stroke:.55px;color:#2490f4;transform:scaleX(0.9644);">Sun</span>
<span id="t56" class="t" style="left:1009px;top:648.88px;font-size:15.5px;font-weight:400;-webkit-text-stroke:.55px;color:#3a3a44;transform:scaleX(0.8251);">PROJECT PROGRESS</span>
<span id="t57" class="t" style="left:1053px;top:709.15px;font-size:14px;font-weight:700;color:#222;transform:scaleX(0.9817);">Crew &amp; transport</span>
<span id="t58" class="t" style="left:1053px;top:725.84px;font-size:12px;font-weight:400;-webkit-text-stroke:.2px;color:#707078;transform:scaleX(1.0389);">The project has been confirmed but not all functions are</span>
<span id="t59" class="t" style="left:1053px;top:740.84px;font-size:12px;font-weight:400;-webkit-text-stroke:.2px;color:#707078;transform:scaleX(1.0536);">fully planned</span>
<span id="t60" class="t" style="left:1053px;top:800.15px;font-size:14px;font-weight:700;color:#222;transform:scaleX(0.9839);">Quotations</span>
<span id="t61" class="t" style="left:1053px;top:816.84px;font-size:12px;font-weight:400;-webkit-text-stroke:.2px;color:#707078;transform:scaleX(1.0281);">The project has been confirmed</span>
<span id="t62" class="t" style="left:1053px;top:883.15px;font-size:14px;font-weight:700;color:#222;transform:scaleX(0.9530);">Invoices</span>
<span id="t63" class="t" style="left:1053px;top:899.84px;font-size:12px;font-weight:400;-webkit-text-stroke:.2px;color:#707078;transform:scaleX(1.0255);">There are still unpaid invoices</span>
</div>
</body></html>
